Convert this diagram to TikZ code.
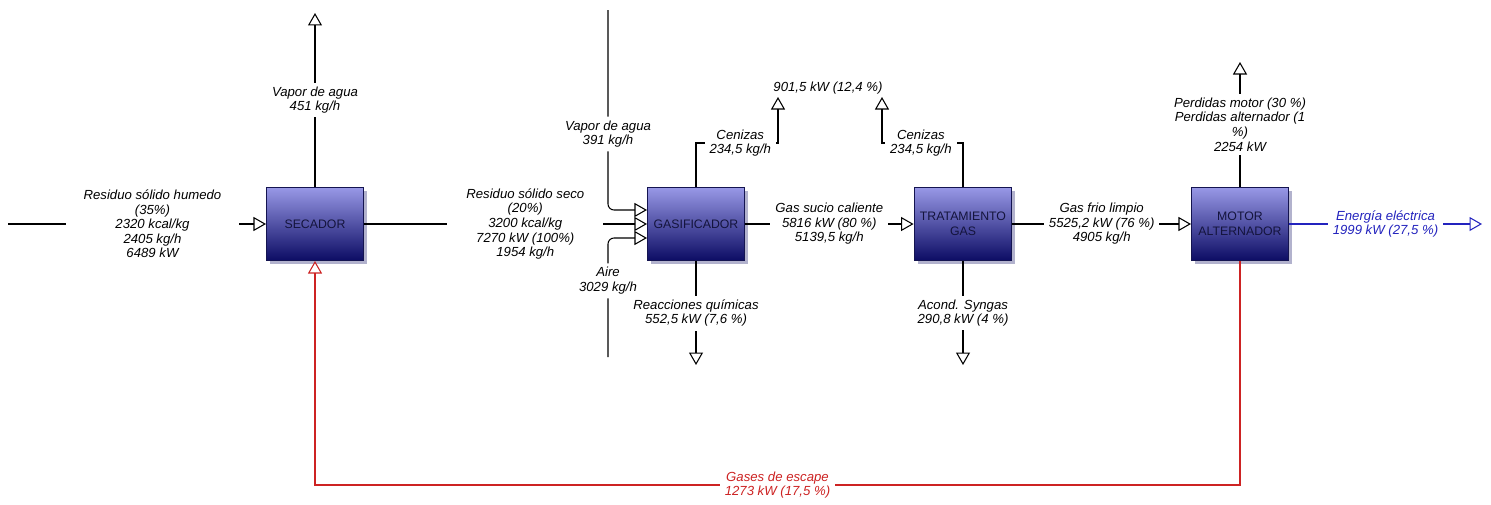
\documentclass[tikz,border=0pt]{standalone}
\usepackage{fontspec}
\setmainfont{Liberation Sans}
\usetikzlibrary{arrows.meta,positioning,shadows}
\definecolor{boxtop}{RGB}{152,152,230}
\definecolor{boxbot}{RGB}{12,12,100}
\definecolor{boxline}{RGB}{20,20,80}
\definecolor{boxtext}{RGB}{20,20,60}
\definecolor{lossred}{RGB}{205,35,35}
\definecolor{elecblue}{RGB}{35,35,190}
\definecolor{shadowgray}{RGB}{178,178,205}

\begin{document}
\begin{tikzpicture}[x=0.02cm,y=-0.02cm,
  procbox/.style={draw=boxline,line width=0.6pt,top color=boxtop,bottom color=boxbot,
    minimum width=1.94cm,minimum height=1.46cm,align=center,
    font=\fontsize{7}{8.5}\selectfont,text=boxtext,
    drop shadow={shadow xshift=0.07cm,shadow yshift=-0.07cm,fill=shadowgray,opacity=1}},
  flow/.style={line width=0.6pt,-{Triangle[open,length=0.25cm,width=0.28cm]}},
  flowlbl/.style={fill=white,align=center,inner xsep=0.1cm,inner ysep=0.08cm,
    font=\fontsize{7.5}{8.3}\selectfont\itshape}
]
  \useasboundingbox (0,0) rectangle (1491,504);

  % Process units
  \node[procbox] (secador) at (315,224) {SECADOR};
  \node[procbox] (gasif) at (696,224) {GASIFICADOR};
  \node[procbox] (trat) at (963,224) {TRATAMIENTO\\GAS};
  \node[procbox] (motor) at (1240,224) {MOTOR\\ALTERNADOR};

  % Free ends of the streams
  \coordinate (resin) at (8,224);
  \coordinate (vapsec) at (315,13);
  \coordinate (vapgas) at (608,10);
  \coordinate (aire) at (608,357);
  \coordinate (cgcorner) at (778,143);
  \coordinate (cengas) at (778,97);
  \coordinate (ctcorner) at (882,143);
  \coordinate (centrat) at (882,97);
  \coordinate (reac) at (696,365);
  \coordinate (acond) at (963,365);
  \coordinate (perd) at (1240,62);
  \coordinate (elec) at (1482,224);
  \coordinate (escape) at (1240,485);

  % Secador
  \draw[flow] (resin) -- node[flowlbl,pos=0.56,inner xsep=0.35cm] (lblres)
    {Residuo s\'olido humedo\\(35\%)\\2320 kcal/kg\\2405 kg/h\\6489 kW} (secador.west);
  \draw[flow] (secador.north) -- node[flowlbl] (lblvapsec)
    {Vapor de agua\\451 kg/h} (vapsec);
  \draw[flow] (secador.east) -- node[flowlbl,pos=0.57,inner xsep=0.38cm] (lblseco)
    {Residuo s\'olido seco\\(20\%)\\3200 kcal/kg\\7270 kW (100\%)\\1954 kg/h} (gasif.west);

  % Gasificador
  \draw[flow,rounded corners=0.12cm] (vapgas) |- node[flowlbl,pos=0.31] (lblvapgas)
    {Vapor de agua\\391 kg/h} ([yshift=0.28cm]gasif.west);
  \draw[flow,rounded corners=0.12cm] (aire) |- node[flowlbl,pos=0.32] (lblaire)
    {Aire\\3029 kg/h} ([yshift=-0.28cm]gasif.west);
  \draw[flow] (gasif.north) |- node[flowlbl,pos=0.77] (lblcengas)
    {Cenizas\\234,5 kg/h} (cgcorner) -- (cengas);
  \draw[flow] (gasif.south) -- node[flowlbl] (lblreac)
    {Reacciones qu\'imicas\\552,5 kW (7,6 \%)} (reac);
  \draw[flow] (gasif.east) -- node[flowlbl] (lblsucio)
    {Gas sucio caliente\\5816 kW (80 \%)\\5139,5 kg/h} (trat.west);
  \node[flowlbl,fill=none] (lblcen) at (828,88) {901,5 kW (12,4 \%)};

  % Tratamiento
  \draw[flow] (trat.north) |- node[flowlbl,pos=0.76] (lblcentrat)
    {Cenizas\\234,5 kg/h} (ctcorner) -- (centrat);
  \draw[flow] (trat.south) -- node[flowlbl] (lblacond)
    {Acond. Syngas\\290,8 kW (4 \%)} (acond);
  \draw[flow] (trat.east) -- node[flowlbl] (lbllimpio)
    {Gas frio limpio\\5525,2 kW (76 \%)\\4905 kg/h} (motor.west);

  % Motor alternador
  \draw[flow] (motor.north) -- node[flowlbl] (lblperd)
    {Perdidas motor (30 \%)\\Perdidas alternador (1\\\%)\\2254 kW} (perd);
  \draw[flow,elecblue] (motor.east) -- node[flowlbl,text=elecblue] (lblelec)
    {Energ\'ia el\'ectrica\\1999 kW (27,5 \%)} (elec);
  \draw[flow,lossred] (motor.south) -- (escape) -| node[flowlbl,pos=0.25,text=lossred] (lblescape)
    {Gases de escape\\1273 kW (17,5 \%)} (secador.south);
\end{tikzpicture}
\end{document}
